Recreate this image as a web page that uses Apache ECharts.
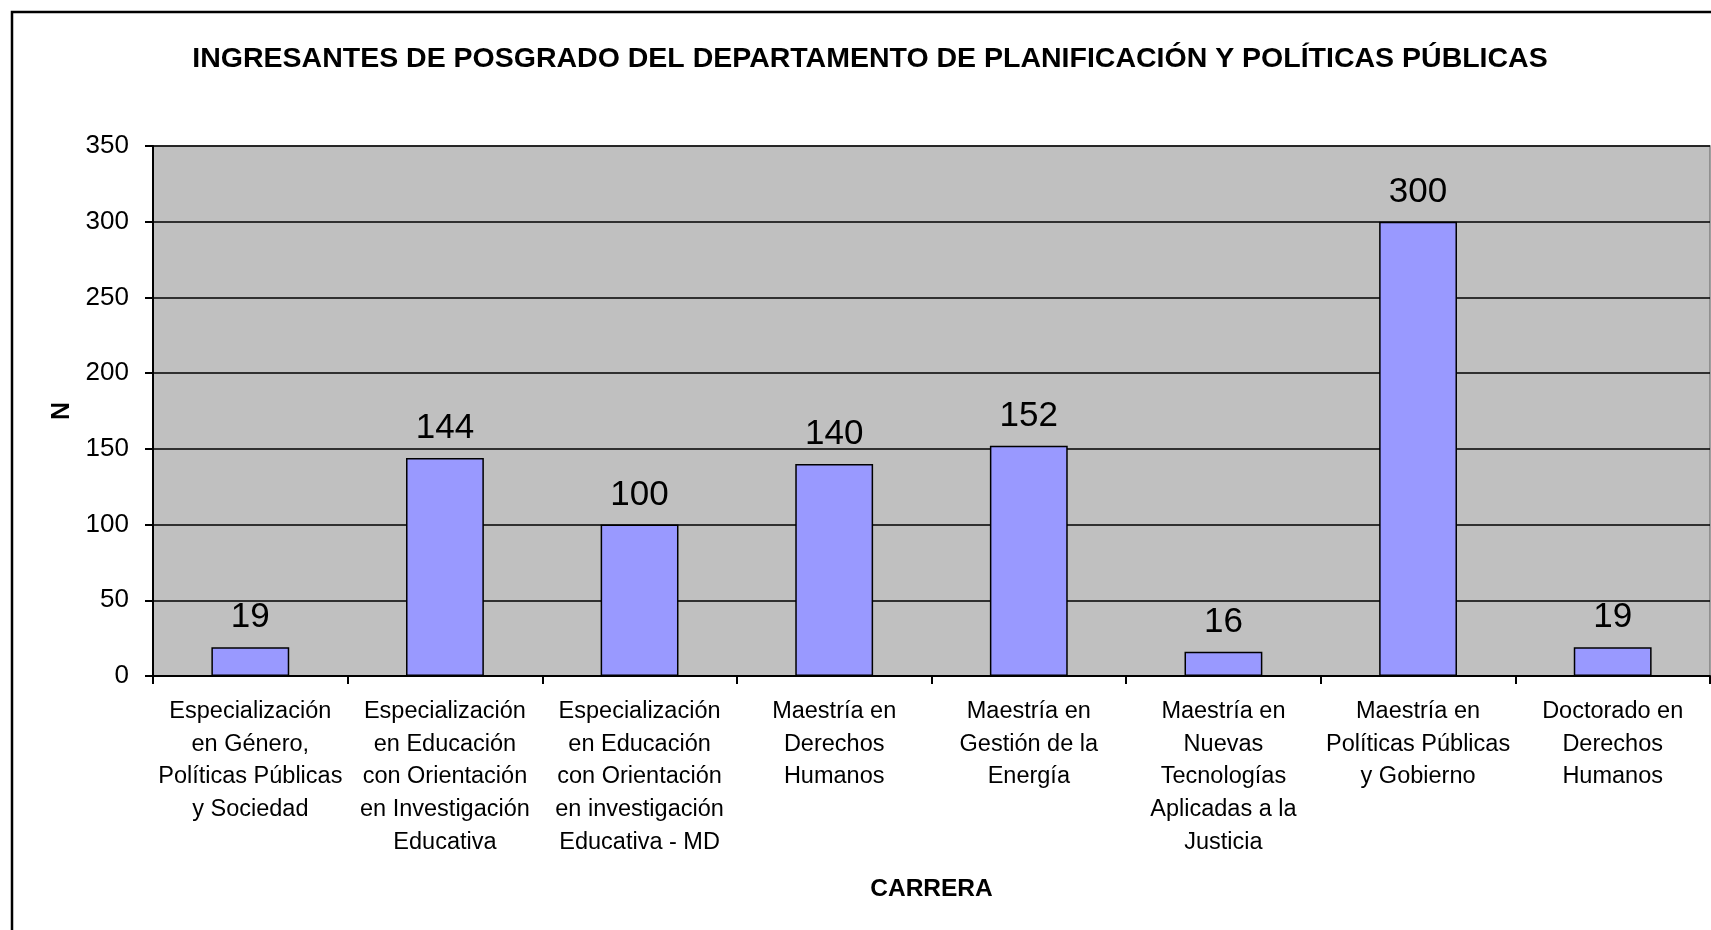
<!DOCTYPE html>
<html>
<head>
<meta charset="utf-8">
<style>
  html, body { margin: 0; padding: 0; background: #fff; }
  #chart { width: 1711px; height: 930px; }
</style>
<script src="https://cdn.jsdelivr.net/npm/echarts@6/dist/echarts.min.js"></script>
</head>
<body>
<div id="chart"></div>
<script>
// datos del gráfico
const titulo = 'INGRESANTES DE POSGRADO DEL DEPARTAMENTO DE PLANIFICACIÓN Y POLÍTICAS PÚBLICAS';
const carreras = [
    'Especialización\nen Género,\nPolíticas Públicas\ny Sociedad',
    'Especialización\nen Educación\ncon Orientación\nen Investigación\nEducativa',
    'Especialización\nen Educación\ncon Orientación\nen investigación\nEducativa - MD',
    'Maestría en\nDerechos\nHumanos',
    'Maestría en\nGestión de la\nEnergía',
    'Maestría en\nNuevas\nTecnologías\nAplicadas a la\nJusticia',
    'Maestría en\nPolíticas Públicas\ny Gobierno',
    'Doctorado en\nDerechos\nHumanos'
];
const ingresantes = [19, 144, 100, 140, 152, 16, 300, 19];
const ejeY = { min: 0, max: 350, interval: 50 };

const chart = echarts.init(document.getElementById('chart'));
const fuente = '"Liberation Sans", Arial, sans-serif';

const option = {
    animation: false,
    backgroundColor: '#ffffff',
    textStyle: { fontFamily: fuente, color: '#000' },
    title: {
        text: titulo,
        left: 865,
        top: 40,
        textAlign: 'center',
        textStyle: { fontSize: 28.5, fontWeight: 'bold', color: '#000', fontFamily: fuente }
    },
    graphic: [{
        // marco exterior del gráfico
        type: 'rect',
        shape: { x: 12, y: 12, width: 1760, height: 1000 },
        style: { fill: null, stroke: '#000', lineWidth: 2.5 },
        silent: true
    }],
    grid: {
        left: 153, top: 146, right: 1, bottom: 254,
        show: true,
        backgroundColor: '#C0C0C0',
        borderColor: '#808080',
        borderWidth: 1.5
    },
    xAxis: {
        type: 'category',
        data: carreras,
        name: 'CARRERA',
        nameLocation: 'middle',
        nameGap: 201,
        nameTextStyle: { fontSize: 24.5, fontWeight: 'bold', color: '#000' },
        axisLine: { lineStyle: { color: '#000', width: 2 } },
        axisTick: { show: true, length: 8, lineStyle: { color: '#000', width: 2 } },
        axisLabel: {
            interval: 0, fontSize: 23.5, lineHeight: 32.7, margin: 19,
            color: '#000', align: 'center'
        }
    },
    yAxis: {
        type: 'value',
        min: ejeY.min, max: ejeY.max, interval: ejeY.interval,
        name: 'N',
        nameLocation: 'middle',
        nameRotate: 90,
        nameGap: 78,
        nameTextStyle: { fontSize: 25, fontWeight: 'bold', color: '#000' },
        axisLine: { show: true, lineStyle: { color: '#000', width: 2 } },
        axisTick: { show: true, length: 8, lineStyle: { color: '#000', width: 2 } },
        axisLabel: { fontSize: 26, color: '#000', margin: 24 },
        splitLine: { show: true, lineStyle: { color: '#000', width: 1.5 } }
    },
    series: [{
        type: 'bar',
        data: ingresantes,
        barWidth: '40%',
        itemStyle: { color: '#9999FF', borderColor: '#000', borderWidth: 1.5 },
        label: { show: true, position: 'top', distance: 12, fontSize: 35, color: '#000' }
    }]
};

chart.setOption(option);
</script>
</body>
</html>
